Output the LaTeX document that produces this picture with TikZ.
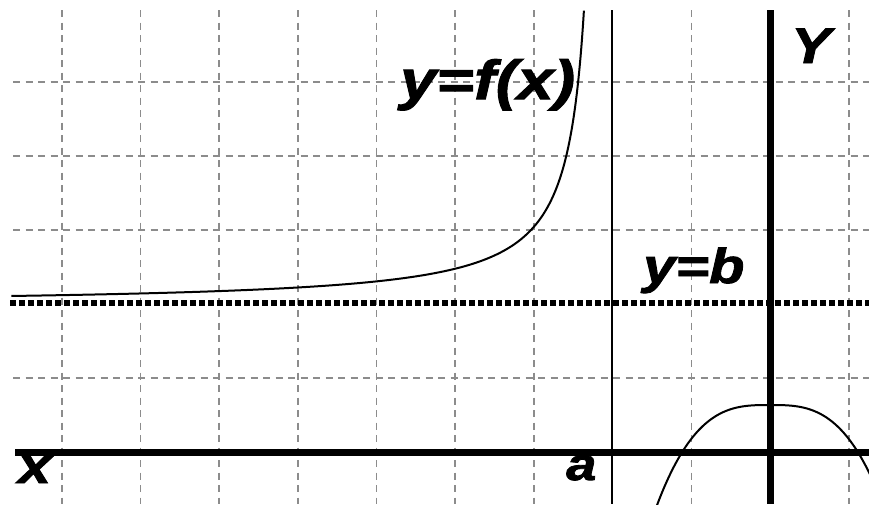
\documentclass[tikz,border=0pt]{standalone}
\usepackage{fontspec}
\newfontfamily\lblfont{Liberation Sans}[FakeBold=1.8,FakeStretch=1.18]
\newcommand\lblsz[1]{\lblfont\bfseries\itshape\fontsize{#1}{#1}\selectfont}
\begin{document}
\begin{tikzpicture}[x=1pt,y=-1pt,
  gridline/.style={draw=gray!90, line width=1.6pt, dash pattern=on 7pt off 5.5pt},
  axisline/.style={line width=7pt},
  asymline/.style={line width=2pt},
  dotline/.style={line width=6pt, dash pattern=on 5.5pt off 3.5pt},
  curveline/.style={line width=2pt, line join=round},
  lbl/.style={inner sep=0pt, anchor=base west}]
\useasboundingbox (0,0) rectangle (869,504);
\fill[white] (0,0) rectangle (869,504);
% grid
\foreach \x in {61.7,140.4,219.1,297.8,376.5,455.2,533.9,691.3,848.7}
  \draw[gridline] (\x,10) -- (\x,504);
\foreach \y in {82,156,230,378}
  \draw[gridline] (13,\y) -- (869,\y);
% coordinates
\coordinate (O) at (770,452);
\coordinate (xl-end) at (15,452);
\coordinate (xr-end) at (869,452);
\coordinate (yt-end) at (770,10);
\coordinate (yb-end) at (770,504);
\coordinate (at-end) at (612,10);
\coordinate (ab-end) at (612,504);
\coordinate (bl-end) at (10,303);
\coordinate (br-end) at (869,303);
% asymptotes
\draw[dotline] (bl-end) -- (br-end);
\draw[asymline] (at-end) -- (ab-end);
% axes
\draw[axisline] (xl-end) -- (xr-end);
\draw[axisline] (yt-end) -- (yb-end);
% curve y=f(x)
\draw[curveline] plot[variable=\t, domain=2.896:6.384, samples=220] ({602-exp(\t)}, {305-5328/exp(\t)});
% parabola-like curve
\draw[curveline] plot[domain=-113:100, samples=214] ({770+\x}, {452-47*(1-((abs(\x)+0.01)/87.8)^3.0)});
% labels
\node[lbl] (fx) at (400,99) {\lblsz{55}y=f(x)};
\node[lbl] (Ylab) at (791,63) {\lblsz{50}Y};
\node[lbl] (yb) at (643,283) {\lblsz{49}y=b};
\node[lbl] (xlab) at (18,483) {\lblsz{50}x};
\node[lbl] (alab) at (566,480) {\lblsz{46}a};
\end{tikzpicture}
\end{document}
